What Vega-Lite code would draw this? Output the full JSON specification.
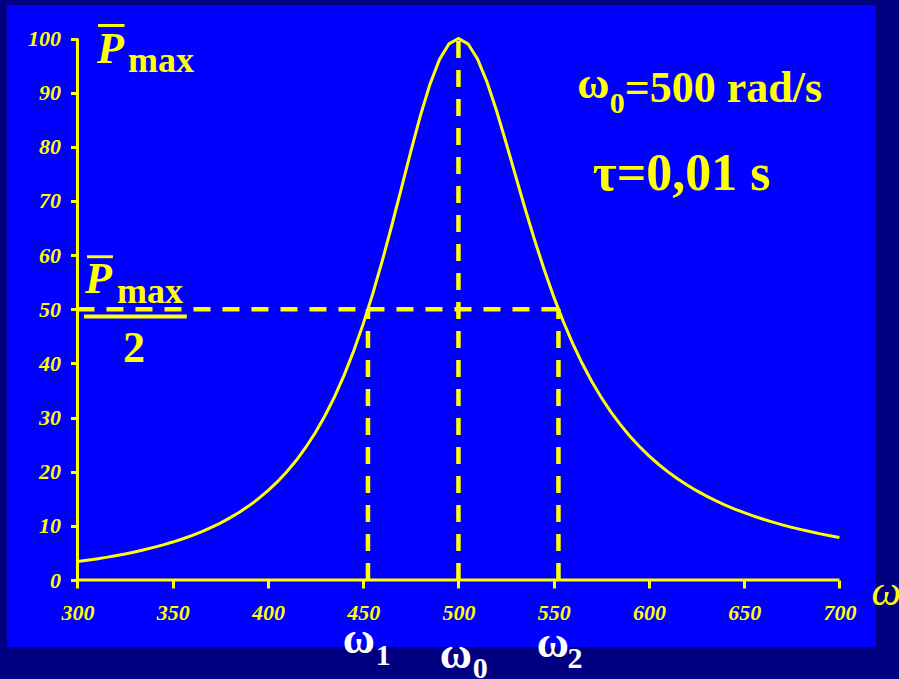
{
  "$schema": "https://vega.github.io/schema/vega-lite/v6.json",
  "width": 869,
  "height": 642,
  "autosize": {"type": "none"},
  "padding": {"left": 7, "top": 5, "right": 23, "bottom": 32},
  "background": "#000080",
  "view": {"fill": "#0000FF", "stroke": null},
  "config": {
    "axis": {"domain": false, "grid": false},
    "text": {"font": "Liberation Serif", "align": "left", "baseline": "alphabetic"}
  },
  "datasets": {
    "power": [
      {"w": 300, "P": 3.40}, {"w": 305, "P": 3.64}, {"w": 310, "P": 3.90}, {"w": 315, "P": 4.18},
      {"w": 320, "P": 4.49}, {"w": 325, "P": 4.82}, {"w": 330, "P": 5.19}, {"w": 335, "P": 5.58},
      {"w": 340, "P": 6.02}, {"w": 345, "P": 6.49}, {"w": 350, "P": 7.01}, {"w": 355, "P": 7.58},
      {"w": 360, "P": 8.21}, {"w": 365, "P": 8.90}, {"w": 370, "P": 9.67}, {"w": 375, "P": 10.52},
      {"w": 380, "P": 11.47}, {"w": 385, "P": 12.52}, {"w": 390, "P": 13.70}, {"w": 395, "P": 15.02},
      {"w": 400, "P": 16.50}, {"w": 405, "P": 18.16}, {"w": 410, "P": 20.04}, {"w": 415, "P": 22.16},
      {"w": 420, "P": 24.57}, {"w": 425, "P": 27.29}, {"w": 430, "P": 30.38}, {"w": 435, "P": 33.88},
      {"w": 440, "P": 37.83}, {"w": 445, "P": 42.30}, {"w": 450, "P": 47.30}, {"w": 455, "P": 52.85},
      {"w": 460, "P": 58.93}, {"w": 465, "P": 65.47}, {"w": 470, "P": 72.29}, {"w": 475, "P": 79.16},
      {"w": 480, "P": 85.71}, {"w": 485, "P": 91.51}, {"w": 490, "P": 96.08}, {"w": 495, "P": 99.00},
      {"w": 500, "P": 100.00}, {"w": 505, "P": 99.02}, {"w": 510, "P": 96.23}, {"w": 515, "P": 91.96},
      {"w": 520, "P": 86.66}, {"w": 525, "P": 80.76}, {"w": 530, "P": 74.63}, {"w": 535, "P": 68.56},
      {"w": 540, "P": 62.76}, {"w": 545, "P": 57.33}, {"w": 550, "P": 52.33}, {"w": 555, "P": 47.78},
      {"w": 560, "P": 43.67}, {"w": 565, "P": 39.98}, {"w": 570, "P": 36.68}, {"w": 575, "P": 33.71},
      {"w": 580, "P": 31.06}, {"w": 585, "P": 28.69}, {"w": 590, "P": 26.56}, {"w": 595, "P": 24.65},
      {"w": 600, "P": 22.93}, {"w": 605, "P": 21.38}, {"w": 610, "P": 19.97}, {"w": 615, "P": 18.70},
      {"w": 620, "P": 17.55}, {"w": 625, "P": 16.50}, {"w": 630, "P": 15.54}, {"w": 635, "P": 14.66},
      {"w": 640, "P": 13.85}, {"w": 645, "P": 13.11}, {"w": 650, "P": 12.43}, {"w": 655, "P": 11.81},
      {"w": 660, "P": 11.23}, {"w": 665, "P": 10.69}, {"w": 670, "P": 10.19}, {"w": 675, "P": 9.73},
      {"w": 680, "P": 9.30}, {"w": 685, "P": 8.90}, {"w": 690, "P": 8.52}, {"w": 695, "P": 8.17},
      {"w": 700, "P": 7.84}
    ],
    "axes": [
      {"w": 300, "w2": 700, "P": 0, "P2": 0},
      {"w": 300, "w2": 300, "P": 0, "P2": 100}
    ],
    "resonance": [
      {"w": 452.5, "w2": 452.5, "P": 0, "P2": 50},
      {"w": 500, "w2": 500, "P": 0, "P2": 100},
      {"w": 552.5, "w2": 552.5, "P": 0, "P2": 50},
      {"w": 300, "w2": 552.5, "P": 50, "P2": 50}
    ],
    "bars": [
      {"w": 310.8, "w2": 324.7, "P": 102.4, "P2": 102.4, "size": 3},
      {"w": 305.0, "w2": 318.6, "P": 59.7, "P2": 59.7, "size": 3},
      {"w": 303.4, "w2": 357.4, "P": 48.66, "P2": 48.66, "size": 4}
    ],
    "bigItalic": [
      {"w": 310.2, "P": 95.5, "t": "P"},
      {"w": 303.9, "P": 53.0, "t": "P"}
    ],
    "yellowBold36": [
      {"w": 326.5, "P": 93.8, "t": "max"},
      {"w": 320.7, "P": 51.15, "t": "max"}
    ],
    "yellowBold44": [
      {"w": 323.9, "P": 40.26, "t": "2"},
      {"w": 562.4, "P": 89.0, "t": "ω"},
      {"w": 587.25, "P": 88.27, "t": "=500 rad/s"}
    ],
    "yellowSub": [
      {"w": 579.4, "P": 86.24, "t": "0"}
    ],
    "tau": [
      {"w": 570.5, "P": 72.0, "t": "τ=0,01 s"}
    ],
    "axisName": [
      {"w": 716.8, "P": -4.62, "t": "ω"}
    ],
    "whiteOmega": [
      {"w": 439.3, "P": -13.48, "t": "ω"},
      {"w": 490.2, "P": -16.25, "t": "ω"},
      {"w": 541.1, "P": -14.22, "t": "ω"}
    ],
    "whiteSub": [
      {"w": 456.6, "P": -15.7, "t": "1"},
      {"w": 507.5, "P": -18.1, "t": "0"},
      {"w": 557.3, "P": -16.25, "t": "2"}
    ]
  },
  "encoding": {
    "x": {
      "field": "w", "type": "quantitative",
      "scale": {"domain": [263.0, 719.2], "nice": false, "zero": false},
      "axis": {
        "orient": "bottom", "offset": -67, "title": null,
        "values": [300, 350, 400, 450, 500, 550, 600, 650, 700],
        "tickColor": "#FFFF00", "tickSize": 8, "tickWidth": 3,
        "labelColor": "#FFFF00", "labelFont": "Liberation Serif", "labelFontSize": 22,
        "labelFontStyle": "italic", "labelFontWeight": "bold", "labelPadding": 14,
        "labelFlush": false, "labelOverlap": false
      }
    },
    "y": {
      "field": "P", "type": "quantitative",
      "scale": {"domain": [-12.37, 106.19], "nice": false, "zero": false},
      "axis": {
        "orient": "left", "offset": -70.5, "title": null,
        "values": [0, 10, 20, 30, 40, 50, 60, 70, 80, 90, 100],
        "tickColor": "#FFFF00", "tickSize": 7, "tickWidth": 3,
        "labelColor": "#FFFF00", "labelFont": "Liberation Serif", "labelFontSize": 22,
        "labelFontStyle": "italic", "labelFontWeight": "bold", "labelPadding": 10,
        "labelFlush": false, "labelOverlap": false
      }
    }
  },
  "layer": [
    {
      "data": {"name": "axes"},
      "mark": {"type": "rule", "color": "#FFFF00", "strokeWidth": 3},
      "encoding": {"x2": {"field": "w2"}, "y2": {"field": "P2"}}
    },
    {
      "data": {"name": "resonance"},
      "mark": {"type": "rule", "color": "#FFFF00", "strokeWidth": 4.5, "strokeDash": [17, 12], "strokeCap": "butt"},
      "encoding": {"x2": {"field": "w2"}, "y2": {"field": "P2"}}
    },
    {
      "data": {"name": "power"},
      "mark": {"type": "line", "color": "#FFFF00", "strokeWidth": 3}
    },
    {
      "data": {"name": "bars"},
      "mark": {"type": "rule", "color": "#FFFF00"},
      "encoding": {
        "x2": {"field": "w2"}, "y2": {"field": "P2"},
        "strokeWidth": {"field": "size", "type": "quantitative", "scale": null}
      }
    },
    {
      "data": {"name": "bigItalic"},
      "mark": {"type": "text", "color": "#FFFF00", "fontSize": 44, "fontWeight": "bold", "fontStyle": "italic"},
      "encoding": {"text": {"field": "t"}}
    },
    {
      "data": {"name": "yellowBold36"},
      "mark": {"type": "text", "color": "#FFFF00", "fontSize": 36, "fontWeight": "bold"},
      "encoding": {"text": {"field": "t"}}
    },
    {
      "data": {"name": "yellowBold44"},
      "mark": {"type": "text", "color": "#FFFF00", "fontSize": 44, "fontWeight": "bold"},
      "encoding": {"text": {"field": "t"}}
    },
    {
      "data": {"name": "yellowSub"},
      "mark": {"type": "text", "color": "#FFFF00", "fontSize": 30, "fontWeight": "bold"},
      "encoding": {"text": {"field": "t"}}
    },
    {
      "data": {"name": "tau"},
      "mark": {"type": "text", "color": "#FFFF00", "fontSize": 52, "fontWeight": "bold"},
      "encoding": {"text": {"field": "t"}}
    },
    {
      "data": {"name": "axisName"},
      "mark": {"type": "text", "color": "#FFFF00", "fontSize": 42, "fontStyle": "italic"},
      "encoding": {"text": {"field": "t"}}
    },
    {
      "data": {"name": "whiteOmega"},
      "mark": {"type": "text", "color": "#FFFFFF", "fontSize": 44, "fontWeight": "bold"},
      "encoding": {"text": {"field": "t"}}
    },
    {
      "data": {"name": "whiteSub"},
      "mark": {"type": "text", "color": "#FFFFFF", "fontSize": 30, "fontWeight": "bold"},
      "encoding": {"text": {"field": "t"}}
    }
  ]
}
